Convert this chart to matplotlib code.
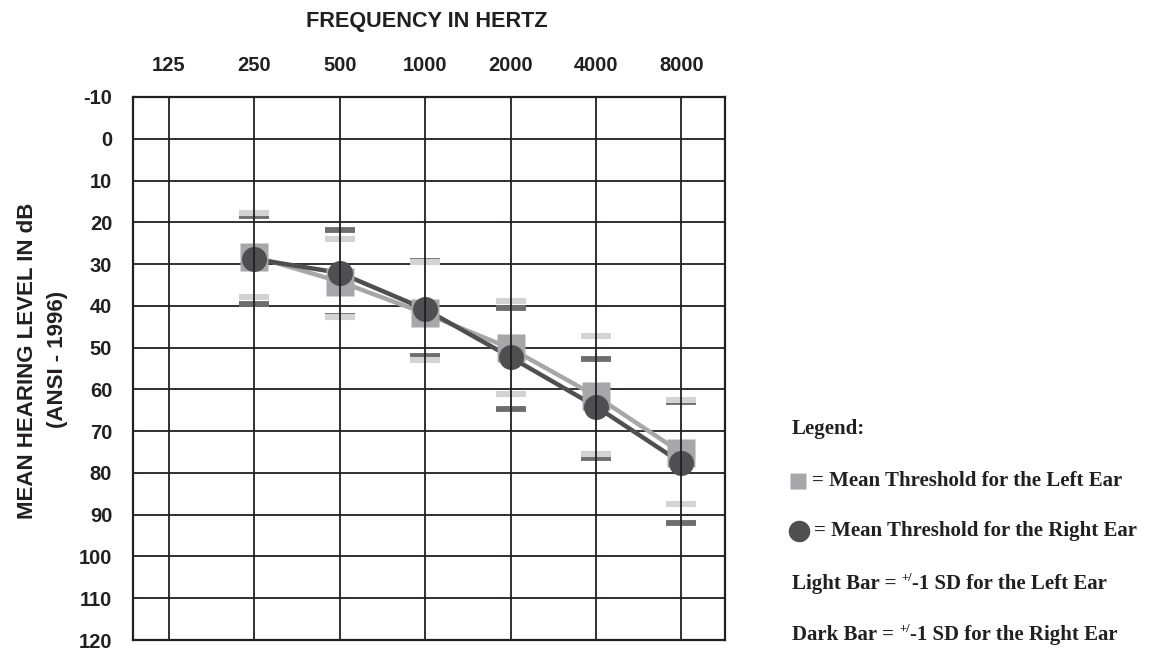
import matplotlib
matplotlib.use("Agg")
import matplotlib.pyplot as plt
import numpy as np

# ---- data ----
freq_labels = ["125", "250", "500", "1000", "2000", "4000", "8000"]
data_freqs = ["250", "500", "1000", "2000", "4000", "8000"]
left_mean = [28.2, 34.2, 41.8, 50.2, 61.6, 75.2]
right_mean = [28.8, 32.1, 40.8, 52.3, 64.1, 77.6]
left_sd_low = [17.8, 24.1, 29.6, 38.8, 47.2, 62.6]
left_sd_high = [37.8, 42.7, 52.9, 61.0, 75.5, 87.4]
right_sd_low = [18.5, 21.8, 29.3, 40.5, 52.7, 63.0]
right_sd_high = [39.5, 42.5, 52.1, 64.7, 76.4, 92.0]
y_ticks = list(range(-10, 121, 10))

# ---- styles ----
GRID = "#231f20"
SQ = "#a7a7a9"
CIR = "#4f4f51"
LIGHT_BAR = "#d3d3d4"
DARK_BAR = "#6d6d6f"
SANS = "Liberation Sans"
SERIF = "Liberation Serif"

fig = plt.figure(figsize=(11.68, 6.49), dpi=100)
ax = fig.add_axes([133 / 1168, 1 - 640 / 649, (725 - 133) / 1168, (640 - 97) / 649])

xpos = np.arange(len(freq_labels))
idx = [freq_labels.index(f) for f in data_freqs]
xd = xpos[idx]

ax.set_xlim(-0.42, 6.51)
ax.set_ylim(120, -10)
ax.set_xticks(xpos)
ax.set_xticklabels(freq_labels)
ax.set_yticks(y_ticks)
ax.set_yticklabels([str(v) for v in y_ticks])
ax.xaxis.tick_top()
ax.tick_params(axis="both", length=0)
ax.tick_params(axis="x", pad=16)
ax.tick_params(axis="y", pad=15)
for lab in ax.get_xticklabels() + ax.get_yticklabels():
    lab.set_fontfamily(SANS)
    lab.set_fontweight("bold")
    lab.set_fontsize(14.5)
    lab.set_color("#231f20")

# horizontal grid below marks, vertical lines above marks
ax.grid(True, axis="y", color=GRID, lw=1.3)
ax.set_axisbelow(True)
ylo, yhi = ax.get_ylim()
ax.vlines(xpos, yhi, ylo, colors=GRID, lw=1.3, zorder=10)
for s in ax.spines.values():
    s.set_color(GRID)
    s.set_linewidth(1.6)
    s.set_zorder(11)

hw = 0.175
# SD bars: dark first, light on top
ax.hlines(right_sd_low, xd - hw, xd + hw, colors=DARK_BAR, lw=4.2, zorder=3)
ax.hlines(right_sd_high, xd - hw, xd + hw, colors=DARK_BAR, lw=4.2, zorder=3)
ax.hlines(left_sd_low, xd - hw, xd + hw, colors=LIGHT_BAR, lw=4.4, zorder=3.5)
ax.hlines(left_sd_high, xd - hw, xd + hw, colors=LIGHT_BAR, lw=4.4, zorder=3.5)

# mean lines and markers
ax.plot(xd, left_mean, color=SQ, lw=3.2, zorder=4, solid_capstyle="butt")
ax.plot(xd, right_mean, color=CIR, lw=3.2, zorder=4.5, solid_capstyle="butt")
ax.plot(xd, left_mean, ls="none", marker="s", ms=20.5, mfc=SQ, mec="none", zorder=5)
ax.plot(xd, right_mean, ls="none", marker="o", ms=18, mfc=CIR, mec="none", zorder=6)

# titles
tk = dict(fontfamily=SANS, fontweight="bold", fontsize=16, color="#231f20",
          ha="center", va="center")
fig.text(427 / 1168, 1 - 22 / 649, "FREQUENCY IN HERTZ", **dict(tk, fontsize=15.6))
fig.text(28 / 1168, 1 - 361 / 649, "MEAN HEARING LEVEL IN dB", rotation=90, **tk)
fig.text(58 / 1168, 1 - 359 / 649, "(ANSI - 1996)", rotation=90, **tk)

# legend (custom)
lk = dict(fontfamily=SERIF, fontweight="bold", fontsize=15, color="#231f20", va="center")
fig.text(792 / 1168, 1 - 429 / 649, "Legend:", ha="left", **lk)
fig.add_artist(plt.Line2D([798 / 1168], [1 - 481 / 649], marker="s", ms=11, mfc=SQ, mec="none",
                          transform=fig.transFigure))
fig.add_artist(plt.Line2D([799 / 1168], [1 - 531 / 649], marker="o", ms=15.5, mfc=CIR, mec="none",
                          transform=fig.transFigure))
fig.text(812 / 1168, 1 - 481 / 649, "= Mean Threshold for the Left Ear", ha="left", **lk)
fig.text(814 / 1168, 1 - 531 / 649, "= Mean Threshold for the Right Ear", ha="left", **lk)

lk2 = dict(fontfamily=SERIF, fontweight="bold", fontsize=15, color="#231f20")
for ypix, pre, post in [(583, "Light Bar = ", "-1 SD for the Left Ear"),
                        (634, "Dark Bar = ", "-1 SD for the Right Ear")]:
    t1 = fig.text(792 / 1168, 1 - (ypix + 6) / 649, pre, ha="left", va="baseline", **lk2)
    a1 = ax.annotate("+/", xy=(1, 0), xycoords=t1, xytext=(0, 7), textcoords="offset points",
                     ha="left", va="bottom", fontfamily=SERIF, fontweight="bold", fontsize=9,
                     color="#231f20", annotation_clip=False)
    a2 = ax.annotate(post, xy=(1, 0), xycoords=(a1, t1), ha="left", va="bottom",
                     annotation_clip=False, **lk2)

fig.savefig("out.png", dpi=100)
